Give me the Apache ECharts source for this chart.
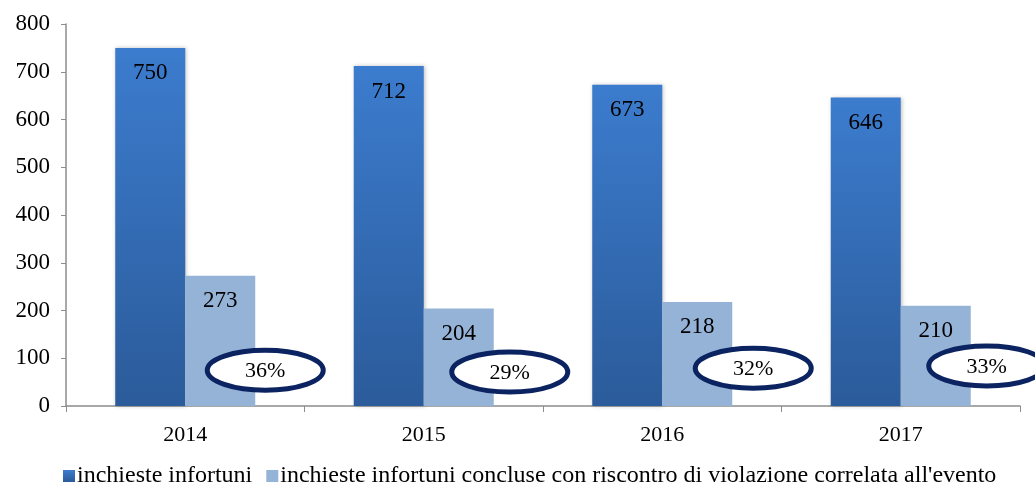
<!DOCTYPE html>
<html>
<head>
<meta charset="utf-8">
<title>inchieste infortuni</title>
<script src="https://cdn.jsdelivr.net/npm/echarts@6/dist/echarts.min.js"></script>
<style>
  html, body { margin: 0; padding: 0; background: #fff; }
  #main { width: 1035px; height: 495px; }
</style>
</head>
<body>
<div id="main"></div>
<script type="text/javascript">
// dati
var anni = ['2014', '2015', '2016', '2017'];
var inchieste = [750, 712, 673, 646];
var concluse = [273, 204, 218, 210];
var percentuali = ['36%', '29%', '32%', '33%'];
// altezza (in valori asse y) del centro di ogni ellisse
var ellisseY = [75, 71, 79, 84];
var yTicks = [0, 100, 200, 300, 400, 500, 600, 700, 800];

var serif = '"Liberation Serif", "DejaVu Serif", serif';
var chart = echarts.init(document.getElementById('main'));

// spostamento orizzontale delle ellissi rispetto al centro della categoria
var offsets = [80, 86, 91, 86];

chart.setOption({
    animation: false,
    grid: { left: 66, right: 15, top: 24, bottom: 89 },
    legend: {
        bottom: 2,
        left: 58,
        itemWidth: 12,
        itemHeight: 12,
        itemGap: 14,
        icon: 'rect',
        textStyle: { fontFamily: serif, fontSize: 24, color: '#000', padding: [0, 0, 0, -3] },
        data: ['inchieste infortuni', 'inchieste infortuni concluse con riscontro di violazione correlata all\'evento']
    },
    xAxis: {
        type: 'category',
        data: anni,
        axisLine: { lineStyle: { color: '#8c8c8c', width: 1.5 } },
        axisTick: { show: true, length: 6, lineStyle: { color: '#8c8c8c' } },
        axisLabel: { fontFamily: serif, fontSize: 22, color: '#000', margin: 18 }
    },
    yAxis: {
        type: 'value',
        min: yTicks[0],
        max: yTicks[yTicks.length - 1],
        interval: 100,
        splitLine: { show: false },
        axisLine: { show: true, lineStyle: { color: '#8c8c8c', width: 1.5 } },
        axisTick: { show: true, length: 5, lineStyle: { color: '#8c8c8c' } },
        axisLabel: { fontFamily: serif, fontSize: 23, color: '#000', margin: 16 }
    },
    series: [
        {
            name: 'inchieste infortuni',
            type: 'bar',
            barWidth: 70,
            barGap: '0%',
            data: inchieste,
            itemStyle: {
                color: new echarts.graphic.LinearGradient(0, 0, 0, 1, [
                    { offset: 0, color: '#3c7cce' },
                    { offset: 1, color: '#2b5b9a' }
                ]),
                shadowColor: 'rgba(0,0,0,0.25)',
                shadowBlur: 4,
                shadowOffsetX: 1
            },
            label: {
                show: true,
                position: 'insideTop',
                distance: 14,
                fontFamily: serif,
                fontSize: 23,
                color: '#000'
            }
        },
        {
            name: 'inchieste infortuni concluse con riscontro di violazione correlata all\'evento',
            type: 'bar',
            barWidth: 70,
            data: concluse,
            itemStyle: { color: '#95b3d7' },
            label: {
                show: true,
                position: 'insideTop',
                distance: 14,
                fontFamily: serif,
                fontSize: 23,
                color: '#000'
            }
        },
        {
            type: 'custom',
            z: 5,
            data: anni.map(function (a, i) { return [i, ellisseY[i]]; }),
            renderItem: function (params, api) {
                var i = params.dataIndex;
                var p = api.coord([api.value(0), api.value(1)]);
                var cx = p[0] + offsets[i];
                return {
                    type: 'group',
                    children: [
                        {
                            type: 'ellipse',
                            shape: { cx: cx, cy: p[1], rx: 58, ry: 20 },
                            style: { fill: '#fff', stroke: '#0b2461', lineWidth: 5 }
                        },
                        {
                            type: 'text',
                            x: cx,
                            y: p[1] + 1,
                            style: {
                                text: percentuali[i],
                                fill: '#000',
                                font: '22px ' + serif,
                                align: 'center',
                                verticalAlign: 'middle'
                            }
                        }
                    ]
                };
            },
            tooltip: { show: false }
        }
    ]
});
</script>
</body>
</html>
